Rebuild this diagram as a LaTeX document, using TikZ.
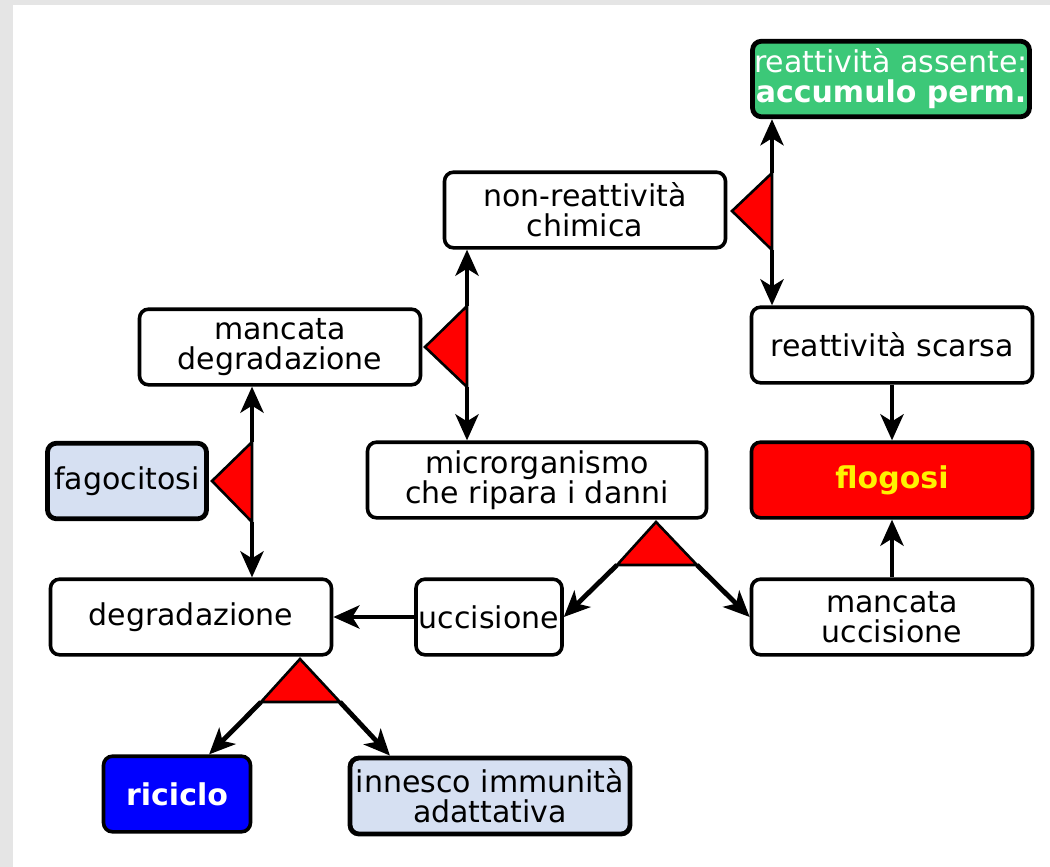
\documentclass[tikz,border=0pt]{standalone}
\usepackage{fontspec}
\setmainfont{DejaVu Sans}
\usetikzlibrary{arrows.meta}
\definecolor{boxgreen}{RGB}{60,200,120}
\definecolor{boxblue}{RGB}{214,224,242}
\definecolor{pagegrey}{RGB}{229,229,229}
\begin{document}
\begin{tikzpicture}[x=0.5pt,y=-0.5pt,
  every node/.style={font=\fontsize{15}{15}\selectfont},
  box/.style={draw,line width=1.8pt,rounded corners=4.5pt,fill=white,align=center,
    minimum width=140.5pt,minimum height=37.8pt,inner sep=0pt},
  hibox/.style={box,line width=2.4pt},
  arr/.style={line width=2.4pt,-{Stealth[length=13pt,width=11.5pt,inset=3.5pt]}},
  fork/.style={draw,line width=1.3pt,fill=red}]
  \fill[pagegrey] (0,0) rectangle (1050,867);
  \fill[white] (13,5) rectangle (1050,867);
  \useasboundingbox (0,0) rectangle (1050,867);
  % boxes
  \node[hibox,fill=boxgreen,text=white,minimum width=138.5pt] (assente) at (891,79) {reattività assente:\\\textbf{accumulo perm.}};
  \node[box] (chimica) at (585,210) {non-reattività\\chimica};
  \node[box] (scarsa) at (892,345) {reattività scarsa};
  \node[box] (mdegr) at (280,347) {mancata\\degradazione};
  \node[hibox,fill=boxblue,minimum width=79.5pt] (fago) at (127,481) {fagocitosi};
  \node[box,minimum width=169.5pt] (micro) at (537,480) {microrganismo\\che ripara i danni};
  \node[box,fill=red,text=yellow] (flogosi) at (892,480) {\textbf{flogosi}};
  \node[box] (degr) at (191,617) {degradazione};
  \node[box,minimum width=73pt] (uccis) at (489,617) {uccisione};
  \node[box,fill=blue,text=white,minimum width=73.5pt] (riciclo) at (177,794) {\textbf{riciclo}};
  \node[box] (muccis) at (892,617) {mancata\\uccisione};
  \node[hibox,fill=boxblue,minimum width=140pt,minimum height=38pt] (innesco) at (490,796) {innesco immunità\\adattativa};
  % forks
  \coordinate (t1t) at (772,173); \coordinate (t1b) at (772,250); \coordinate (t1p) at (732,211);
  \coordinate (t2t) at (467,306); \coordinate (t2b) at (467,387); \coordinate (t2p) at (425,347);
  \coordinate (t3t) at (252,442); \coordinate (t3b) at (252,522); \coordinate (t3p) at (212,481);
  \coordinate (t4p) at (656,522); \coordinate (t4l) at (617,565); \coordinate (t4r) at (697,565);
  \coordinate (t5p) at (300,659); \coordinate (t5l) at (261,702); \coordinate (t5r) at (340,702);
  % arrows
  \draw[arr] (t1t) -- (t1t |- assente.south);
  \draw[arr] (t1b) -- (t1b |- scarsa.north);
  \draw[arr] (t2t) -- (t2t |- chimica.south);
  \draw[arr] (t2b) -- (t2b |- micro.north);
  \draw[arr] (t3t) -- (t3t |- mdegr.south);
  \draw[arr] (t3b) -- (t3b |- degr.north);
  \draw[arr] (t4l) -- (uccis.east);
  \draw[arr] (t4r) -- (muccis.west);
  \draw[arr] (t5l) -- (riciclo.51);
  \draw[arr] (t5r) -- (innesco.158);
  \draw[arr] (scarsa) -- (flogosi);
  \draw[arr] (muccis) -- (flogosi);
  \draw[arr] (uccis) -- (degr);
  \foreach \t in {1,2,3}
    \draw[fork] (t\t t) -- (t\t p) -- (t\t b) -- cycle;
  \foreach \t in {4,5}
    \draw[fork] (t\t p) -- (t\t l) -- (t\t r) -- cycle;
\end{tikzpicture}
\end{document}
